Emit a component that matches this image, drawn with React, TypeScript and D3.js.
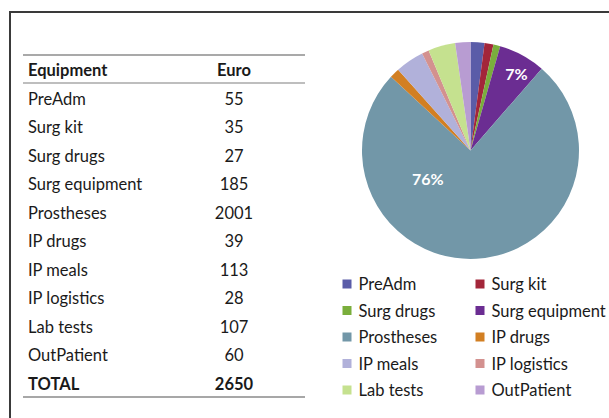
import React from "react";
import * as d3 from "d3";

const categories = ["PreAdm", "Surg kit", "Surg drugs", "Surg equipment", "Prostheses", "IP drugs", "IP meals", "IP logistics", "Lab tests", "OutPatient"];
const euroValues = [55, 35, 27, 185, 2001, 39, 113, 28, 107, 60];
const colors = ["#5a5ca8", "#a3263a", "#7aae3c", "#6b2d92", "#7297a8", "#d27f22", "#b1b1da", "#d3918f", "#c5e18f", "#b89cd2"];
const tableHeaders = ["Equipment", "Euro"];
const totalLabel = "TOTAL";
const shownPercentLabels = ["Surg equipment", "Prostheses"];

const W = 609;
const H = 418;
const FONT = "Lato, 'Open Sans', sans-serif";
const FS = 16.5;

export default function App() {
  const total = d3.sum(euroValues);
  const cx = 470.5, cy = 150.5, r = 108.5;
  const pie = d3.pie<number>().sort(null).value((d) => d)(euroValues);
  const arc = d3.arc<d3.PieArcDatum<number>>().innerRadius(0).outerRadius(r);
  const pct = d3.format(".0%");

  // table layout
  const rowY = d3.scaleLinear().domain([0, 1]).range([98.5, 127]);
  const leftX = 28, euroX = 234;

  // legend layout
  const legendRow = d3.scaleLinear().domain([0, 1]).range([284, 310.5]);
  const legendCol = [342.5, 475.5];

  return (
    <svg width={W} height={H} style={{ position: "absolute", left: 0, top: 0, background: "#fff" }} fontFamily={FONT}>
      <rect x={0} y={0} width={W} height={H} fill="#fff" />
      {/* frame */}
      <line x1={9.5} y1={12} x2={W} y2={12} stroke="#3a3a3a" strokeWidth={2} />
      <line x1={10} y1={11} x2={10} y2={H} stroke="#3a3a3a" strokeWidth={2} />

      {/* table */}
      <line x1={23} x2={305} y1={55} y2={55} stroke="#a9a9a9" strokeWidth={2} />
      <text x={leftX} y={70} fontSize={FS} fontWeight="bold" fill="#1a1a1a" dominantBaseline="central">{tableHeaders[0]}</text>
      <text x={euroX} y={70} fontSize={FS} fontWeight="bold" fill="#1a1a1a" textAnchor="middle" dominantBaseline="central">{tableHeaders[1]}</text>
      <line x1={23} x2={305} y1={83} y2={83} stroke="#a9a9a9" strokeWidth={1.5} />
      {categories.map((c, i) => (
        <g key={c}>
          <text x={leftX} y={rowY(i)} fontSize={FS} fill="#1a1a1a" dominantBaseline="central">{c}</text>
          <text x={euroX} y={rowY(i)} fontSize={FS} fill="#1a1a1a" textAnchor="middle" dominantBaseline="central">{euroValues[i]}</text>
        </g>
      ))}
      <text x={leftX} y={rowY(categories.length)} fontSize={FS} fontWeight="bold" fill="#1a1a1a" dominantBaseline="central">{totalLabel}</text>
      <text x={euroX} y={rowY(categories.length)} fontSize={FS} fontWeight="bold" fill="#1a1a1a" textAnchor="middle" dominantBaseline="central">{total}</text>
      <line x1={23} x2={305} y1={397} y2={397} stroke="#8a8a8a" strokeWidth={1.5} />

      {/* pie */}
      <g transform={`translate(${cx},${cy})`}>
        {pie.map((d, i) => (
          <path key={categories[i]} d={arc(d) || ""} fill={colors[i]} />
        ))}
        {pie.map((d, i) => {
          if (!shownPercentLabels.includes(categories[i])) return null;
          const big = d.endAngle - d.startAngle > Math.PI;
          const a = big ? d.startAngle + (d.endAngle - d.startAngle) * 0.72 : (d.startAngle + d.endAngle) / 2 + 0.04;
          const lr = big ? r * 0.47 : r * 0.83;
          const x = Math.sin(a) * lr;
          const y = -Math.cos(a) * lr;
          return (
            <text key={"l" + i} x={x} y={y} fontSize={16} fontWeight="bold" fill="#fff" textAnchor="middle" dominantBaseline="central">
              {pct(d.value / total)}
            </text>
          );
        })}
      </g>

      {/* legend */}
      {categories.map((c, i) => {
        const col = i % 2;
        const row = Math.floor(i / 2);
        const x = legendCol[col];
        const y = legendRow(row);
        return (
          <g key={"lg" + c}>
            <rect x={x} y={y - 4.5} width={9} height={9} fill={colors[i]} />
            <text x={x + 16} y={y} fontSize={FS} fill="#1a1a1a" dominantBaseline="central">{c}</text>
          </g>
        );
      })}
    </svg>
  );
}
